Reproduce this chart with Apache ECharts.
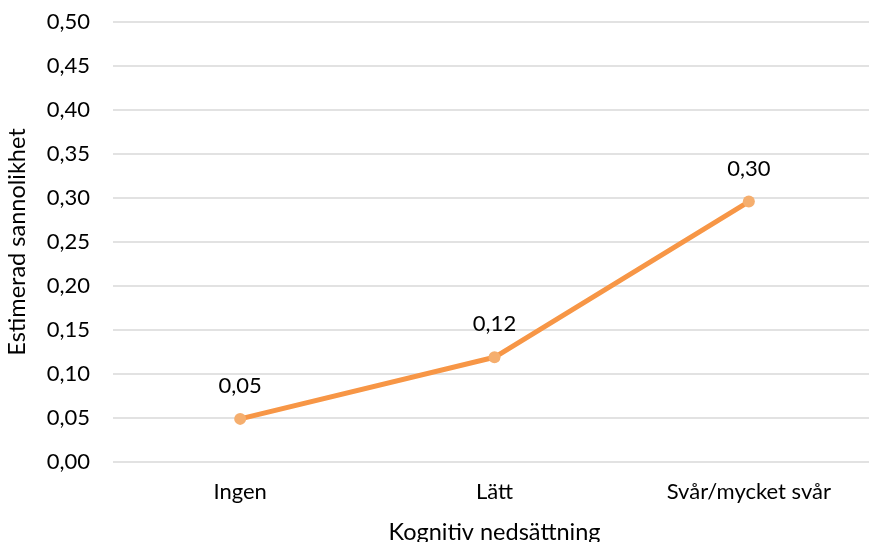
<!DOCTYPE html>
<html>
<head>
<meta charset="utf-8">
<script src="https://cdn.jsdelivr.net/npm/echarts@6/dist/echarts.min.js"></script>
<style>html,body{margin:0;padding:0;background:#fff}#c{width:869px;height:542px}</style>
</head>
<body>
<div id="c"></div>
<script>
var categories = ['Ingen', 'Lätt', 'Svår/mycket svår'];
var values = [0.049, 0.119, 0.296];
var yTicks = { min: 0, max: 0.5, interval: 0.05 };
var xTitle = 'Kognitiv nedsättning';
var yTitle = 'Estimerad sannolikhet';

var fmt = function (v) { return v.toFixed(2).replace('.', ','); };
var font = 'Lato, "Open Sans", sans-serif';
var chart = echarts.init(document.getElementById('c'));
chart.setOption({
  animation: false,
  grid: { left: 113, right: -7, top: 22, bottom: 80, outerBoundsMode: 'none', containLabel: false },
  xAxis: {
    type: 'category', data: categories, boundaryGap: true,
    axisLine: { show: false }, axisTick: { show: false },
    axisLabel: { color: '#000', fontFamily: font, fontSize: 22, margin: 19 },
    name: xTitle, nameLocation: 'middle', nameGap: 58,
    nameTextStyle: { color: '#000', fontFamily: font, fontSize: 23.5 }
  },
  yAxis: {
    type: 'value', min: yTicks.min, max: yTicks.max, interval: yTicks.interval,
    axisLine: { show: false }, axisTick: { show: false },
    axisLabel: { color: '#000', fontFamily: font, fontSize: 22, margin: 23, formatter: fmt },
    splitLine: { lineStyle: { color: '#D9D9D9', width: 1.5 } },
    name: yTitle, nameLocation: 'middle', nameGap: 84,
    nameTextStyle: { color: '#000', fontFamily: font, fontSize: 23.5 }
  },
  series: [{
    type: 'line', data: values,
    lineStyle: { color: '#F79646', width: 5 },
    itemStyle: { color: '#F5AE6E' },
    symbol: 'circle', symbolSize: 12,
    label: { show: true, position: 'top', distance: 16, color: '#000', fontFamily: font, fontSize: 22,
      formatter: function (p) { return fmt(p.value); } }
  }]
});
</script>
</body>
</html>
